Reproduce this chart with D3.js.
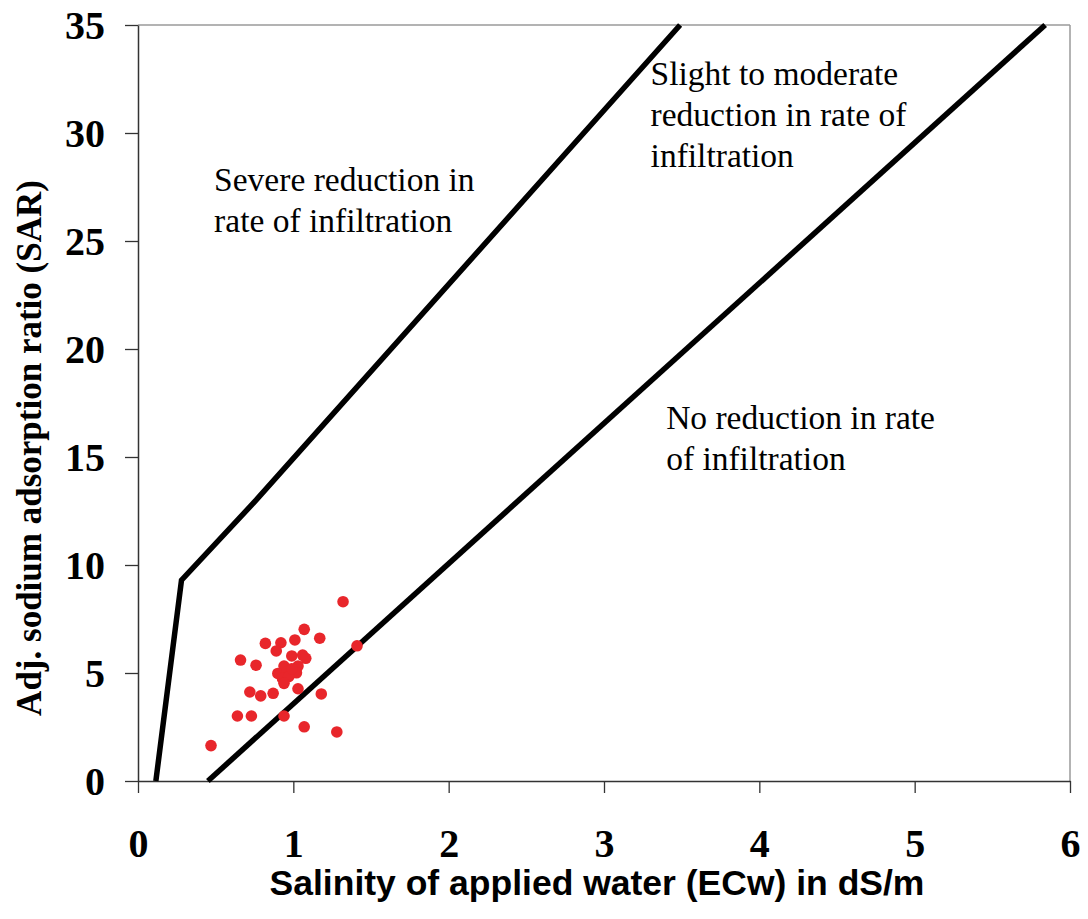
<!DOCTYPE html>
<html>
<head>
<meta charset="utf-8">
<script src="https://cdn.jsdelivr.net/npm/d3@7"></script>
<style>
  html, body { margin: 0; padding: 0; background: #fff; }
  svg { display: block; }
</style>
</head>
<body>
<svg id="chart" width="1088" height="919"></svg>
<script>
// ---- data ----
const xTicks = [0, 1, 2, 3, 4, 5, 6];
const yTicks = [0, 5, 10, 15, 20, 25, 30, 35];

// boundary between "severe" and "slight to moderate"
const severeLineEC = [0.115, 0.28, 0.76, 3.49];
const severeLineSAR = [0, 9.3, 13.0, 35];
// boundary between "slight to moderate" and "no reduction"
const noneLineEC = [0.45, 5.84];
const noneLineSAR = [0, 35];

// sample points (ECw dS/m, adj. SAR)
const sampleEC = [1.32, 1.07, 1.17, 0.82, 0.92, 1.01, 0.89, 1.41, 0.66, 0.76, 0.99, 1.06, 1.08, 1.03, 0.94, 0.90, 1.02,
                  0.96, 0.93, 0.97, 0.94, 0.99, 0.72, 0.79, 0.87, 1.03, 1.18, 0.64, 0.73, 0.94, 1.07, 1.28, 0.47];
const sampleSAR = [8.30, 7.02, 6.61, 6.37, 6.40, 6.53, 6.02, 6.26, 5.60, 5.36, 5.79, 5.83, 5.68, 5.32, 5.32, 4.98, 5.01,
                   5.06, 4.75, 4.83, 4.52, 5.20, 4.12, 3.94, 4.06, 4.27, 4.03, 3.01, 3.01, 3.01, 2.51, 2.27, 1.64];

const zoneLabels = [
  { lines: ["Severe reduction in", "rate of infiltration"], x: 0.49, y: 27.3 },
  { lines: ["Slight to moderate", "reduction in rate of", "infiltration"], x: 3.3, y: 32.2 },
  { lines: ["No reduction in rate", "of infiltration"], x: 3.4, y: 16.3 }
];

const xTitle = "Salinity of applied water (ECw) in dS/m";
const yTitle = "Adj. sodium adsorption ratio (SAR)";

(function () {
// ---- layout ----
const mLeft = 138, mRight = 1070, mTop = 25, mBottom = 781;
const svg = d3.select("#chart");
const x = d3.scaleLinear().domain([0, 6]).range([mLeft, mRight]);
const y = d3.scaleLinear().domain([0, 35]).range([mBottom, mTop]);

const serif = "'Liberation Serif', 'Times New Roman', serif";
const sans = "'Liberation Sans', Arial, sans-serif";

// frame (top and right in light gray)
svg.append("line").attr("x1", mLeft).attr("x2", mRight).attr("y1", mTop).attr("y2", mTop)
  .attr("stroke", "#9a9a9a").attr("stroke-width", 1.5);
svg.append("line").attr("x1", mRight).attr("x2", mRight).attr("y1", mTop).attr("y2", mBottom)
  .attr("stroke", "#9a9a9a").attr("stroke-width", 1.5);

// axes
const xAxis = d3.axisBottom(x).tickValues(xTicks).tickFormat(d3.format("d")).tickSize(12).tickSizeOuter(0);
const yAxis = d3.axisLeft(y).tickValues(yTicks).tickFormat(d3.format("d")).tickSize(13).tickPadding(20).tickSizeOuter(0);

const gx = svg.append("g").attr("transform", `translate(0,${mBottom})`).call(xAxis);
const gy = svg.append("g").attr("transform", `translate(${mLeft},0)`).call(yAxis);

[gx, gy].forEach(g => {
  g.select(".domain").attr("stroke", "#333").attr("stroke-width", 1.5);
  g.selectAll(".tick line").attr("stroke", "#333").attr("stroke-width", 1.3);
  g.selectAll(".tick text").attr("fill", "#000")
    .style("font-family", serif).style("font-weight", "bold").style("font-size", "40px");
});
gx.selectAll(".tick text").attr("dy", null).attr("y", 76);
gy.selectAll(".tick text").attr("dy", "0.34em");

// boundary lines
const line = d3.line().x(d => x(d[0])).y(d => y(d[1]));
svg.append("path").datum(severeLineEC.map((v, i) => [v, severeLineSAR[i]]))
  .attr("d", line).attr("fill", "none").attr("stroke", "#000").attr("stroke-width", 5.5)
  .attr("stroke-linejoin", "miter");
svg.append("path").datum(noneLineEC.map((v, i) => [v, noneLineSAR[i]]))
  .attr("d", line).attr("fill", "none").attr("stroke", "#000").attr("stroke-width", 5.5);

// zone labels
zoneLabels.forEach(z => {
  const t = svg.append("text").attr("x", x(z.x)).attr("y", y(z.y))
    .style("font-family", serif).style("font-size", "33.5px").attr("fill", "#000");
  z.lines.forEach((l, i) => {
    t.append("tspan").attr("x", x(z.x)).attr("dy", i === 0 ? 0 : 41).text(l);
  });
});

// points
svg.append("g").selectAll("circle")
  .data(sampleEC.map((v, i) => [v, sampleSAR[i]]))
  .join("circle")
  .attr("cx", d => x(d[0])).attr("cy", d => y(d[1])).attr("r", 5.8)
  .attr("fill", "#e8262b");

// titles
svg.append("text").attr("x", 597).attr("y", 895)
  .attr("text-anchor", "middle")
  .style("font-family", sans).style("font-weight", "bold").style("font-size", "35.5px")
  .text(xTitle);

svg.append("text")
  .attr("transform", `translate(41,${(mTop + mBottom) / 2 + 45}) rotate(-90)`)
  .attr("text-anchor", "middle")
  .style("font-family", serif).style("font-weight", "bold").style("font-size", "35px")
  .text(yTitle);
})();
</script>
</body>
</html>
